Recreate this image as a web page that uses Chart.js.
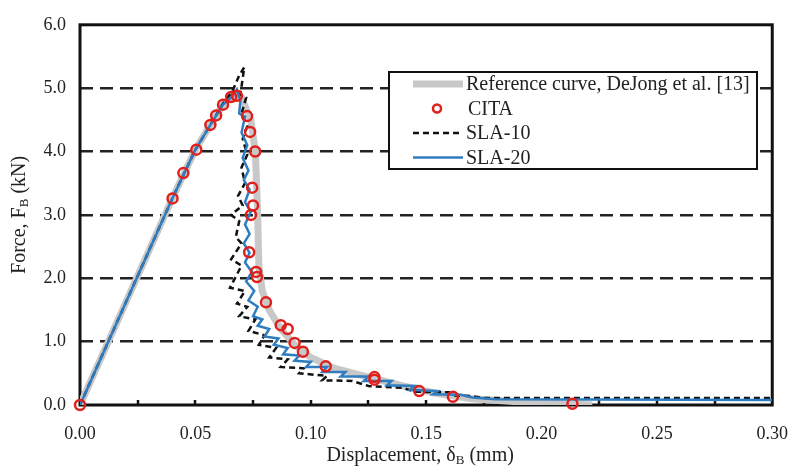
<!DOCTYPE html>
<html>
<head>
<meta charset="utf-8">
<script src="https://cdn.jsdelivr.net/npm/chart.js@4/dist/chart.umd.min.js"></script>
<style>
    html, body { margin: 0; padding: 0; background: #fff; }
    #wrap { width: 798px; height: 469px; }
</style>
</head>
<body>
<div id="wrap"><canvas id="force"></canvas></div>
<script>
// reference curve, DeJong et al. [13] (displacement mm, force kN)
var refX = [0, 0.040, 0.050, 0.0565, 0.062, 0.067, 0.070, 0.074, 0.076, 0.077, 0.0775, 0.079, 0.082, 0.087, 0.093, 0.100, 0.110, 0.125, 0.140, 0.155, 0.170, 0.190, 0.222];
var refY = [0, 3.26, 4.03, 4.42, 4.74, 4.92, 4.85, 4.50, 4.00, 3.00, 2.20, 1.80, 1.50, 1.20, 0.95, 0.75, 0.58, 0.44, 0.30, 0.18, 0.10, 0.05, 0.00];

// CITA
var citaX = [0, 0.0401, 0.0448, 0.0504, 0.0565, 0.059, 0.062, 0.0655, 0.068, 0.0724, 0.0737, 0.0759, 0.0746, 0.075, 0.0741, 0.0733, 0.0763, 0.0767, 0.0806, 0.087, 0.090, 0.093, 0.0966, 0.1065, 0.1276, 0.1276, 0.147, 0.1616, 0.2134];
var citaY = [0, 3.26, 3.66, 4.03, 4.42, 4.57, 4.74, 4.86, 4.88, 4.56, 4.31, 4.00, 3.43, 3.15, 3.00, 2.41, 2.10, 2.02, 1.62, 1.26, 1.20, 0.98, 0.84, 0.61, 0.44, 0.40, 0.22, 0.13, 0.02];

// SLA-10
var sla10X = [0, 0.040, 0.050, 0.0565, 0.062, 0.066, 0.069, 0.0712, 0.0695, 0.072, 0.070, 0.0725, 0.0705, 0.0725, 0.070, 0.0715, 0.0685, 0.0705, 0.0655, 0.069, 0.0675, 0.070, 0.0655, 0.0700, 0.0650, 0.0715, 0.068, 0.0725, 0.0690, 0.0760, 0.0730, 0.0800, 0.0775, 0.0850, 0.0820, 0.0900, 0.0870, 0.0970, 0.0950, 0.1070, 0.1050, 0.1180, 0.1250, 0.1400, 0.1450, 0.1600, 0.1620, 0.1700, 0.1750, 0.3000];
var sla10Y = [0, 3.26, 4.03, 4.42, 4.76, 4.95, 5.20, 5.33, 4.90, 4.85, 4.60, 4.40, 4.20, 3.95, 3.75, 3.50, 3.30, 3.15, 3.00, 2.90, 2.65, 2.55, 2.30, 2.20, 1.85, 1.80, 1.60, 1.55, 1.40, 1.35, 1.17, 1.10, 0.95, 0.90, 0.75, 0.72, 0.60, 0.58, 0.50, 0.46, 0.39, 0.38, 0.30, 0.27, 0.21, 0.20, 0.15, 0.14, 0.11, 0.11];

// SLA-20
var sla20X = [0, 0.040, 0.050, 0.0565, 0.062, 0.066, 0.068, 0.0695, 0.069, 0.0715, 0.070, 0.0725, 0.0705, 0.073, 0.071, 0.0735, 0.0715, 0.074, 0.0715, 0.0735, 0.071, 0.0735, 0.0715, 0.0745, 0.072, 0.0755, 0.073, 0.077, 0.075, 0.079, 0.077, 0.082, 0.080, 0.086, 0.084, 0.090, 0.088, 0.095, 0.093, 0.100, 0.098, 0.107, 0.105, 0.115, 0.113, 0.125, 0.123, 0.135, 0.133, 0.145, 0.143, 0.155, 0.153, 0.165, 0.170, 0.180, 0.300];
var sla20Y = [0, 3.26, 4.03, 4.42, 4.74, 4.87, 4.98, 4.80, 4.60, 4.55, 4.30, 4.10, 3.90, 3.70, 3.55, 3.40, 3.20, 3.05, 2.85, 2.70, 2.55, 2.40, 2.25, 2.10, 1.95, 1.80, 1.65, 1.55, 1.40, 1.35, 1.25, 1.20, 1.08, 1.05, 0.95, 0.90, 0.80, 0.78, 0.70, 0.68, 0.60, 0.60, 0.52, 0.52, 0.45, 0.45, 0.38, 0.38, 0.31, 0.30, 0.24, 0.22, 0.17, 0.16, 0.12, 0.09, 0.08];

var serif = "'Liberation Serif', 'DejaVu Serif', serif";

function pts(xs, ys) {
    return xs.map(function(x, i) { return { x: x, y: ys[i] }; });
}

// box, inner minor ticks, axis titles with subscripts
var framePlugin = {
    id: 'frame',
    beforeDatasetsDraw: function(chart) {
        var ctx = chart.ctx, a = chart.chartArea, xs = chart.scales.x;
        ctx.save();
        ctx.strokeStyle = '#111';
        ctx.lineWidth = 3;
        ctx.strokeRect(a.left, a.top, a.right - a.left, a.bottom - a.top);
        ctx.lineWidth = 2.5;
        for (var v = 0.025; v < 0.3; v += 0.025) {
            var px = Math.round(xs.getPixelForValue(v));
            ctx.beginPath();
            ctx.moveTo(px, a.bottom);
            ctx.lineTo(px, a.bottom - 5);
            ctx.stroke();
        }
        ctx.restore();
    },
    afterDraw: function(chart) {
        var ctx = chart.ctx, a = chart.chartArea;
        function subText(parts, cx, cy) {
            var w = 0;
            parts.forEach(function(p) {
                ctx.font = (p.sub ? 13 : 20) + 'px ' + serif;
                w += ctx.measureText(p.t).width;
            });
            var x = cx - w / 2;
            parts.forEach(function(p) {
                ctx.font = (p.sub ? 13 : 20) + 'px ' + serif;
                ctx.fillText(p.t, x, cy + (p.sub ? 5 : 0));
                x += ctx.measureText(p.t).width;
            });
        }
        ctx.save();
        ctx.fillStyle = '#222';
        ctx.textBaseline = 'middle';
        ctx.textAlign = 'left';
        subText([{ t: 'Displacement, \u03b4' }, { t: 'B', sub: true }, { t: ' (mm)' }], (a.left + a.right) / 2 - 6, 456);
        ctx.translate(20, (a.top + a.bottom) / 2);
        ctx.rotate(-Math.PI / 2);
        subText([{ t: 'Force, F' }, { t: 'B', sub: true }, { t: ' (kN)' }], 0, 0);
        ctx.restore();
    }
};

// legend box drawn inside the plot from the datasets
var boxLegend = {
    id: 'boxLegend',
    afterDraw: function(chart) {
        var ctx = chart.ctx;
        var bx = 389, by = 72, bw = 368, bh = 97;
        ctx.save();
        ctx.fillStyle = '#fff';
        ctx.fillRect(bx, by, bw, bh);
        ctx.strokeStyle = '#111';
        ctx.lineWidth = 2;
        ctx.strokeRect(bx, by, bw, bh);
        ctx.font = '20px ' + serif;
        ctx.textBaseline = 'middle';
        ctx.fillStyle = '#222';
        var order = [3, 0, 2, 1];
        order.forEach(function(di, row) {
            var ds = chart.data.datasets[di];
            var y = by + 12 + row * 24.5;
            if (ds.showLine === false) {
                ctx.beginPath();
                ctx.arc(437, y, 4, 0, Math.PI * 2);
                ctx.strokeStyle = ds.borderColor;
                ctx.lineWidth = 2.5;
                ctx.stroke();
            } else {
                ctx.beginPath();
                ctx.setLineDash(ds.borderDash || []);
                ctx.strokeStyle = ds.borderColor;
                ctx.lineWidth = ds.borderWidth;
                ctx.moveTo(413, y);
                ctx.lineTo(463, y);
                ctx.stroke();
                ctx.setLineDash([]);
            }
            ctx.fillText(ds.label, di === 0 ? 468 : 466, y + 1);
        });
        ctx.restore();
    }
};

var forceConfig = {
    type: 'scatter',
    data: {
        datasets: [{
            label: 'CITA',
            data: pts(citaX, citaY),
            showLine: false,
            pointStyle: 'circle',
            pointRadius: 5,
            pointBorderWidth: 2.5,
            borderColor: '#e0201c',
            backgroundColor: 'rgba(255,255,255,0)',
            clip: 10,
            order: 0
        }, {
            label: 'SLA-20',
            data: pts(sla20X, sla20Y),
            showLine: true,
            borderColor: '#2f7dc0',
            borderWidth: 2.5,
            pointRadius: 0,
            order: 1
        }, {
            label: 'SLA-10',
            data: pts(sla10X, sla10Y),
            showLine: true,
            borderColor: '#111',
            borderWidth: 2.5,
            borderDash: [6, 4],
            pointRadius: 0,
            order: 2
        }, {
            label: 'Reference curve, DeJong et al. [13]',
            data: pts(refX, refY),
            showLine: true,
            borderColor: '#c8c8c8',
            borderWidth: 7,
            pointRadius: 0,
            order: 3
        }]
    },
    options: {
        responsive: true,
        maintainAspectRatio: false,
        animation: false,
        layout: {
            padding: { top: 21, right: 21, left: 0, bottom: 0 }
        },
        plugins: {
            legend: { display: false },
            tooltip: { enabled: false }
        },
        scales: {
            x: {
                type: 'linear',
                min: 0,
                max: 0.3,
                grid: { display: false },
                border: { display: false },
                ticks: {
                    stepSize: 0.05,
                    padding: 10,
                    color: '#222',
                    font: { family: serif, size: 18 },
                    maxRotation: 0,
                    callback: function(v) { return v.toFixed(2); }
                },
                afterFit: function(scale) { scale.height = 64; }
            },
            y: {
                min: 0,
                max: 6,
                grid: {
                    drawTicks: false,
                    lineWidth: 2.5,
                    color: function(c) {
                        var v = c.tick ? c.tick.value : 0;
                        return (v > 0.5 && v < 5.5) ? '#222' : 'rgba(0,0,0,0)';
                    }
                },
                border: { display: false, dash: [13, 7] },
                ticks: {
                    stepSize: 1,
                    padding: 14,
                    color: '#222',
                    font: { family: serif, size: 18 },
                    callback: function(v) { return v.toFixed(1); }
                },
                afterFit: function(scale) { scale.width = 80; }
            }
        }
    },
    plugins: [framePlugin, boxLegend]
};

window.onload = function() {
    var forceCtx = document.getElementById("force").getContext("2d");
    window.forceChart = new Chart(forceCtx, forceConfig);
};
</script>
</body>
</html>
